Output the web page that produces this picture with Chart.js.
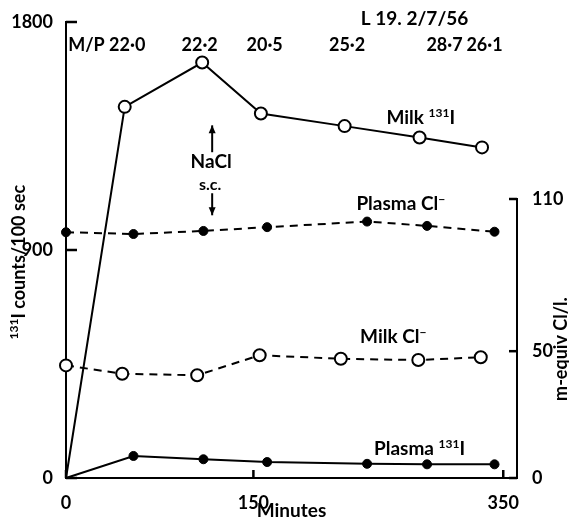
<!DOCTYPE html>
<html>
<head>
<meta charset="utf-8">
<script src="https://cdn.jsdelivr.net/npm/chart.js@4/dist/chart.umd.min.js"></script>
<style>
  body { margin: 0; background: #fff; }
  canvas { display: block; }
</style>
</head>
<body>
<canvas id="chart" width="569" height="521"></canvas>
<script>
// sample times (minutes)
var milkITimes = [0, 47, 109, 156, 223, 283, 333];
var milkClTimes = [0, 45, 105, 155, 220, 282, 332];
var plasmaTimes = [0, 54, 110, 161, 241, 289, 343];

// 131I counts/100 sec
var milkIodine = [0, 1465, 1640, 1439, 1389, 1344, 1305];
var plasmaIodine = [0, 87, 74, 63, 56, 54, 54];

// m-equiv Cl/l.
var milkChloride = [44.4, 41.1, 40.5, 48.4, 47.0, 46.5, 47.6];
var plasmaChloride = [96.9, 96.2, 97.4, 98.9, 101.1, 99.4, 97.1];

// M/P ratios written along the top
var mpTimes = [49, 107, 159, 225, 303, 335];
var mpRatios = ['22·0', '22·2', '20·5', '25·2', '28·7', '26·1'];

// axis ticks
var xTicks = [0, 150, 350];
var yTicks = [0, 900, 1800];
var y2Ticks = [0, 50, 110];

var FAMILY = 'Lato, "Open Sans", sans-serif';
function fnt(size) { return 'bold ' + size + 'px ' + FAMILY; }

function pts(times, values) {
    return times.map(function(t, i) { return {x: t, y: values[i]}; });
}

function setTicks(list) {
    return function(scale) {
        scale.ticks = list.map(function(v) { return {value: v}; });
    };
}

// text with superscripts: parts = [[text, sup], ...]
function rich(ctx, parts, cx, cy, size) {
    size = size || 19;
    var w = 0;
    parts.forEach(function(p) {
        ctx.font = fnt(p[1] ? 12 : size);
        w += ctx.measureText(p[0]).width;
    });
    var xp = cx - w / 2;
    ctx.textAlign = 'left';
    ctx.textBaseline = 'middle';
    parts.forEach(function(p) {
        ctx.font = fnt(p[1] ? 12 : size);
        ctx.fillText(p[0], xp, p[1] ? cy - 5 : cy);
        xp += ctx.measureText(p[0]).width;
    });
}

function seg(ctx, x1, y1, x2, y2) {
    ctx.beginPath();
    ctx.moveTo(x1, y1);
    ctx.lineTo(x2, y2);
    ctx.stroke();
}

function arrow(ctx, x, y1, y2) {
    // head at y2
    var d = y2 > y1 ? 1 : -1;
    seg(ctx, x, y1, x, y2);
    ctx.beginPath();
    ctx.moveTo(x, y2);
    ctx.lineTo(x - 3.5, y2 - d * 8);
    ctx.lineTo(x + 3.5, y2 - d * 8);
    ctx.closePath();
    ctx.fill();
}

// tick marks point into the plot on every axis
var innerTicks = {
    id: 'innerTicks',
    afterDraw: function(chart) {
        var ctx = chart.ctx, a = chart.chartArea, s = chart.scales;
        ctx.save();
        ctx.strokeStyle = '#000';
        ctx.lineWidth = 2.5;
        s.y.ticks.forEach(function(t) {
            var p = s.y.getPixelForValue(t.value);
            seg(ctx, a.left, p, a.left + 11, p);
        });
        s.x.ticks.forEach(function(t) {
            var p = s.x.getPixelForValue(t.value);
            seg(ctx, p, a.bottom, p, a.bottom - 8);
        });
        s.y2.ticks.forEach(function(t) {
            var p = s.y2.getPixelForValue(t.value);
            seg(ctx, a.right, p, a.right - 8, p);
        });
        ctx.restore();
    }
};

var notes = {
    id: 'notes',
    afterDraw: function(chart) {
        var ctx = chart.ctx, x = chart.scales.x, y = chart.scales.y;
        ctx.save();
        ctx.fillStyle = '#000';
        ctx.strokeStyle = '#000';
        ctx.lineWidth = 2;

        // heading and M/P ratios
        ctx.font = fnt(19);
        ctx.textAlign = 'center';
        ctx.textBaseline = 'middle';
        ctx.fillText('L 19. 2/7/56', x.getPixelForValue(279), y.getPixelForValue(1813));
        ctx.font = fnt(18);
        var topY = y.getPixelForValue(1708);
        mpRatios.forEach(function(r, i) {
            ctx.fillText(r, x.getPixelForValue(mpTimes[i]), topY);
        });
        var first = x.getPixelForValue(mpTimes[0]) - ctx.measureText(mpRatios[0]).width / 2;
        ctx.textAlign = 'right';
        ctx.fillText('M/P ', first, topY);

        // series labels
        rich(ctx, [['Milk ', 0], ['131', 1], ['I', 0]], x.getPixelForValue(284), y.getPixelForValue(1420));
        rich(ctx, [['Plasma Cl', 0], ['−', 1]], x.getPixelForValue(268), y.getPixelForValue(1081));
        rich(ctx, [['Milk Cl', 0], ['−', 1]], x.getPixelForValue(262), y.getPixelForValue(556));
        rich(ctx, [['Plasma ', 0], ['131', 1], ['I', 0]], x.getPixelForValue(283), y.getPixelForValue(114));

        // NaCl injection
        var ax = x.getPixelForValue(117);
        ctx.font = fnt(19);
        ctx.textAlign = 'center';
        ctx.fillText('NaCl', ax - 1, y.getPixelForValue(1247));
        ctx.font = fnt(16);
        ctx.fillText('s.c.', ax - 2, y.getPixelForValue(1156));
        arrow(ctx, ax, y.getPixelForValue(1286), y.getPixelForValue(1392));
        arrow(ctx, ax, y.getPixelForValue(1124), y.getPixelForValue(1037));

        // axis titles
        ctx.save();
        ctx.translate(19, y.getPixelForValue(852));
        ctx.rotate(-Math.PI / 2);
        rich(ctx, [['131', 1], ['I counts/100 sec', 0]], 0, 0, 18);
        ctx.restore();
        ctx.save();
        ctx.translate(561, y.getPixelForValue(509));
        ctx.rotate(-Math.PI / 2);
        rich(ctx, [['m-equiv Cl/l.', 0]], 0, 0, 18);
        ctx.restore();

        ctx.restore();
    }
};

Chart.defaults.color = '#000';
Chart.defaults.font.family = FAMILY;
Chart.defaults.font.size = 18;
Chart.defaults.font.weight = 'bold';

var axisBorder = {display: true, color: '#000', width: 2};
var plain = function(v) { return String(v); };

new Chart(document.getElementById('chart').getContext('2d'), {
    type: 'line',
    data: {
        datasets: [{
            label: 'Milk 131I',
            data: pts(milkITimes, milkIodine),
            yAxisID: 'y',
            borderColor: '#000',
            borderWidth: 2,
            pointRadius: [0, 6, 6, 6, 6, 6, 6],
            pointBackgroundColor: '#fff',
            pointBorderColor: '#000',
            pointBorderWidth: 2,
            clip: false
        }, {
            label: 'Milk Cl-',
            data: pts(milkClTimes, milkChloride),
            yAxisID: 'y2',
            borderColor: '#000',
            borderWidth: 2,
            borderDash: [8, 6],
            pointRadius: 6,
            pointBackgroundColor: '#fff',
            pointBorderColor: '#000',
            pointBorderWidth: 2,
            clip: false
        }, {
            label: 'Plasma Cl-',
            data: pts(plasmaTimes, plasmaChloride),
            yAxisID: 'y2',
            borderColor: '#000',
            borderWidth: 2,
            borderDash: [8, 6],
            pointRadius: 4.5,
            pointBackgroundColor: '#000',
            pointBorderColor: '#000',
            pointBorderWidth: 1,
            clip: false
        }, {
            label: 'Plasma 131I',
            data: pts(plasmaTimes, plasmaIodine),
            yAxisID: 'y',
            borderColor: '#000',
            borderWidth: 2,
            pointRadius: [0, 4.5, 4.5, 4.5, 4.5, 4.5, 4.5],
            pointBackgroundColor: '#000',
            pointBorderColor: '#000',
            pointBorderWidth: 1,
            clip: false
        }]
    },
    options: {
        responsive: false,
        animation: false,
        events: [],
        layout: {padding: {top: 22, left: 0, right: 0, bottom: 0}},
        plugins: {legend: {display: false}, tooltip: {enabled: false}},
        scales: {
            x: {
                type: 'linear',
                min: 0,
                max: 361,
                afterBuildTicks: setTicks(xTicks),
                afterFit: function(s) { s.height = 43; },
                grid: {display: false},
                border: axisBorder,
                ticks: {padding: 6, maxRotation: 0, callback: plain},
                title: {display: true, text: 'Minutes', font: {size: 19, lineHeight: 1}, padding: {top: 0, bottom: 1}}
            },
            y: {
                type: 'linear',
                position: 'left',
                min: 0,
                max: 1800,
                afterBuildTicks: setTicks(yTicks),
                afterFit: function(s) { s.width = 66; },
                grid: {display: false},
                border: axisBorder,
                ticks: {padding: 5, callback: plain}
            },
            yTop: {
                type: 'linear',
                position: 'right',
                stack: 'right',
                stackWeight: 177,
                min: 0,
                max: 1,
                afterFit: function(s) { s.width = 52; },
                grid: {display: false},
                border: {display: false},
                ticks: {display: false}
            },
            y2: {
                type: 'linear',
                position: 'right',
                stack: 'right',
                stackWeight: 279,
                min: 0,
                max: 110,
                afterBuildTicks: setTicks(y2Ticks),
                afterFit: function(s) { s.width = 52; },
                grid: {display: false},
                border: axisBorder,
                ticks: {padding: 7, callback: plain}
            }
        }
    },
    plugins: [innerTicks, notes]
});
</script>
</body>
</html>
